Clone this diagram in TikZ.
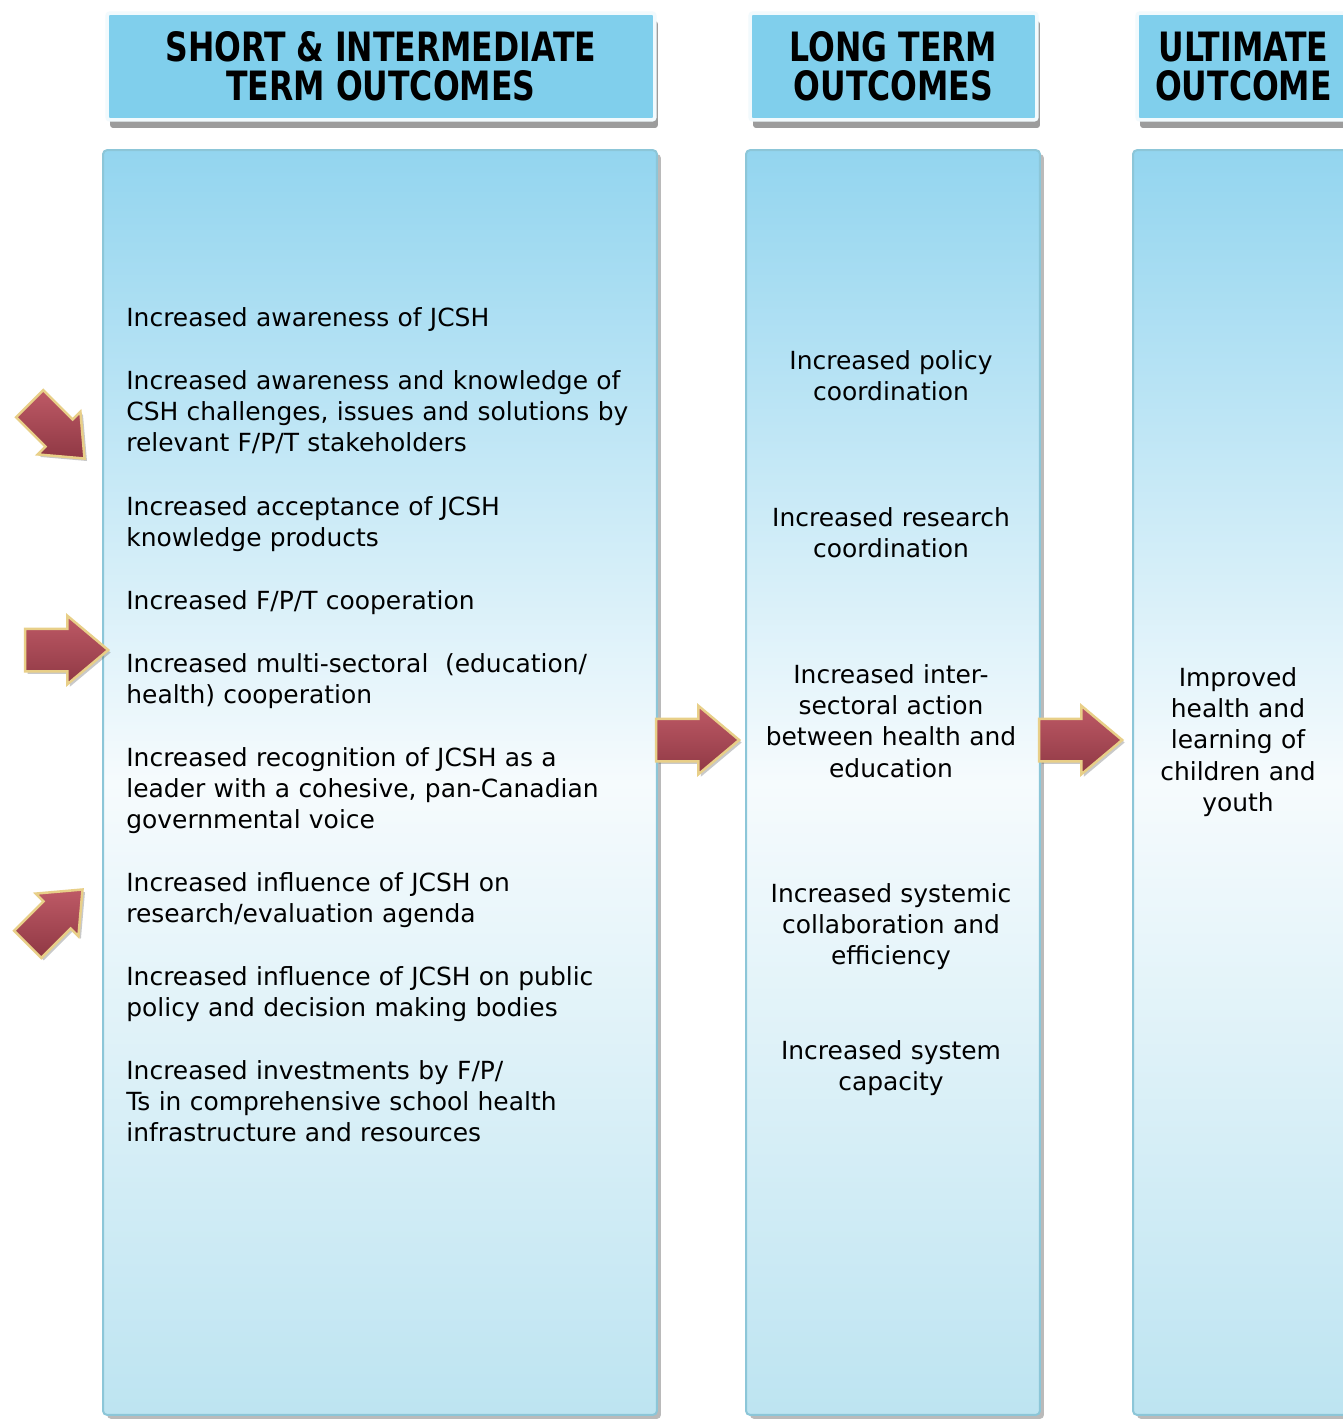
\documentclass[tikz,border=0pt]{standalone}
\usepackage{fontspec}
\setmainfont{DejaVu Sans}
\newfontfamily\headfont[FakeStretch=0.78]{DejaVu Sans}
\usetikzlibrary{shapes.arrows,shadows}

\definecolor{headBlue}{HTML}{80CFEC}
\definecolor{bodyTop}{HTML}{93D5EF}
\definecolor{bodyMid}{HTML}{F6FBFD}
\definecolor{bodyBottom}{HTML}{BDE4F1}
\definecolor{bodyEdge}{HTML}{8CC6D8}
\definecolor{arrowLight}{HTML}{BE5A66}
\definecolor{arrowDark}{HTML}{8F3844}
\definecolor{arrowGold}{HTML}{E8CF88}

\tikzset{
	headBox/.style={rectangle, rounded corners=0.06cm, fill=headBlue, draw=white!90!headBlue,
		line width=0.07cm, align=center, inner sep=0pt,
		font=\headfont\bfseries\fontsize{23}{22}\selectfont,
		drop shadow={shadow xshift=0.06cm, shadow yshift=-0.16cm, opacity=0.55, fill=black!70}},
	bodyBox/.style={rectangle, rounded corners=0.08cm, top color=bodyTop, bottom color=bodyBottom,
		middle color=bodyMid, draw=bodyEdge, line width=0.04cm,
		drop shadow={shadow xshift=0.08cm, shadow yshift=-0.08cm, opacity=0.45, fill=black!60}},
	outcomeText/.style={anchor=base west, align=left, text width=11cm, inner sep=0pt,
		font=\fontsize{14.2}{17.9}\selectfont},
	centreText/.style={anchor=base, align=center, text width=5.8cm, inner sep=0pt,
		font=\fontsize{14.2}{17.9}\selectfont},
	fatArrow/.style={single arrow, draw=arrowGold, line width=0.05cm, top color=arrowLight,
		bottom color=arrowDark, minimum height=1.66cm, inner xsep=0pt, inner ysep=0.4cm,
		single arrow head extend=0.26cm, single arrow tip angle=80,
		drop shadow={shadow xshift=0.05cm, shadow yshift=-0.05cm, opacity=0.35, fill=black!60}},
	slantArrow/.style={fatArrow, minimum height=1.55cm, inner ysep=0.36cm,
		single arrow head extend=0.22cm}
}

\begin{document}
\begin{tikzpicture}[x=0.02cm, y=-0.02cm]
	
	\useasboundingbox (0,0) rectangle (1343,1421);
	\clip (0,0) rectangle (1343,1421);
	\fill[white] (0,0) rectangle (1343,1421);
	
	%Headers
	\node (shortHead) at (381,66.5) [headBox, minimum width=10.96cm, minimum height=2.14cm]
		{SHORT \& INTERMEDIATE\\TERM OUTCOMES};
	\node (longHead) at (893.5,66.5) [headBox, minimum width=5.74cm, minimum height=2.14cm]
		{LONG TERM\\OUTCOMES};
	\node (ultimateHead) at (1243.5,66.5) [headBox, minimum width=4.26cm, minimum height=2.14cm]
		{ULTIMATE\\OUTCOME};
	
	%Columns
	\node (shortBody) at (380,782.5) [bodyBox, minimum width=11.08cm, minimum height=25.3cm] {};
	\node (longBody) at (893,782.5) [bodyBox, minimum width=5.88cm, minimum height=25.3cm] {};
	\node (ultimateBody) at (1243.5,782.5) [bodyBox, minimum width=4.42cm, minimum height=25.3cm] {};
	
	%Short and intermediate outcomes
	\node (awareJcsh) at (126,326) [outcomeText] {Increased awareness of JCSH};
	\node (awareCsh) at (126,389) [outcomeText] {Increased awareness and knowledge of\\
		CSH challenges, issues and solutions by\\relevant F/P/T stakeholders};
	\node (acceptance) at (126,515) [outcomeText] {Increased acceptance of JCSH\\knowledge products};
	\node (fptCoop) at (126,609) [outcomeText] {Increased F/P/T cooperation};
	\node (multiCoop) at (126,672) [outcomeText] {Increased multi-sectoral~ (education/\\
		health) cooperation};
	\node (recognition) at (126,766) [outcomeText] {Increased recognition of JCSH as a\\
		leader with a cohesive, pan-Canadian\\governmental voice};
	\node (researchInfl) at (126,891) [outcomeText] {Increased influence of JCSH on\\
		research/evaluation agenda};
	\node (policyInfl) at (126,985) [outcomeText] {Increased influence of JCSH on public\\
		policy and decision making bodies};
	\node (investments) at (126,1079) [outcomeText] {Increased investments by F/P/\\
		Ts in comprehensive school health\\infrastructure and resources};
	
	%Long term outcomes
	\node (policyCoord) at (891,369) [centreText] {Increased policy\\coordination};
	\node (researchCoord) at (891,526) [centreText] {Increased research\\coordination};
	\node (interAction) at (891,683) [centreText] {Increased inter-\\sectoral action\\
		between health and\\education};
	\node (systemic) at (891,902) [centreText] {Increased systemic\\collaboration and\\efficiency};
	\node (capacity) at (891,1059) [centreText] {Increased system\\capacity};
	
	%Ultimate outcome
	\node (improved) at (1238,686) [centreText, text width=3.8cm] {Improved\\health and\\
		learning of\\children and\\youth};
	
	%Arrows
	\node (arrowAware) at (49,423) [slantArrow, rotate=-45] {};
	\node (arrowCoop) at (54,650) [fatArrow] {};
	\node (arrowInfl) at (47,925) [slantArrow, rotate=45] {};
	\node (arrowShortLong) at (685,740) [fatArrow] {};
	\node (arrowLongUltimate) at (1068,740) [fatArrow] {};
	
\end{tikzpicture}
\end{document}
